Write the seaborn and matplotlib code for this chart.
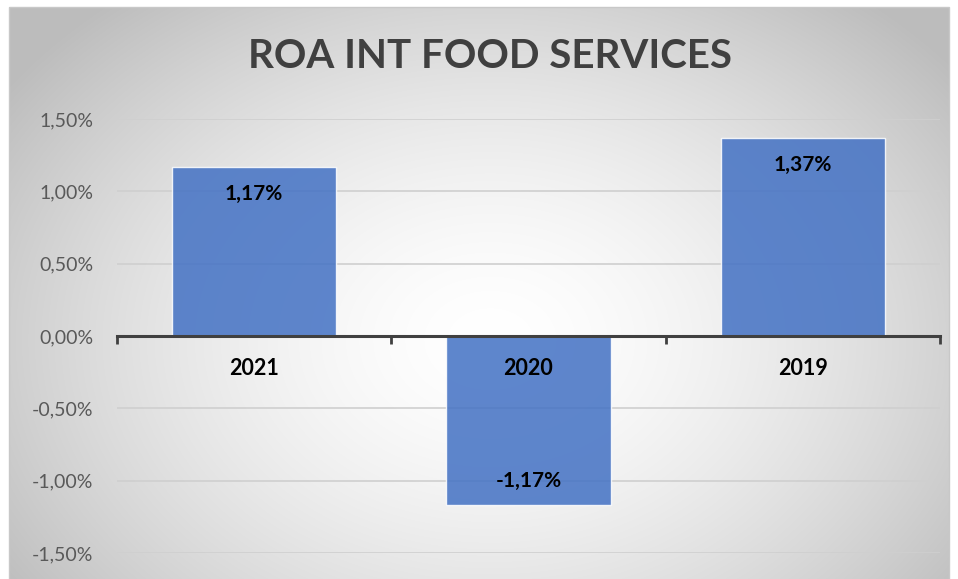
import numpy as np
import pandas as pd
import seaborn as sns
import matplotlib.pyplot as plt
from matplotlib.patches import Rectangle
from matplotlib.ticker import FuncFormatter, FixedLocator

# --- DATA ---
years = ['2021', '2020', '2019']
roa = [1.17, -1.17, 1.37]
y_ticks = [-1.5, -1.0, -0.5, 0.0, 0.5, 1.0, 1.5]
title = "ROA INT FOOD SERVICES"

df = pd.DataFrame({'year': years, 'roa': roa})

sns.set_style("white")
plt.rcParams['font.family'] = ['Lato', 'DejaVu Sans']

W, H = 958, 579
fig = plt.figure(figsize=(W / 100, H / 100), dpi=100)

# --- radial gradient background inside chart frame ---
bg = fig.add_axes([0, 0, 1, 1], zorder=0)
yy, xx = np.mgrid[0:H, 0:W]
r = np.sqrt(((xx - 490) / 560) ** 2 + ((yy - 340) / 420) ** 2)
shade = np.clip(1 - 0.24 * r ** 1.6, 0.74, 1)
img = np.dstack([shade] * 3)
img[:, :9] = 1
img[:, 949:] = 1
img[:7, :] = 1
bg.imshow(img, extent=[0, W, H, 0], aspect='auto', interpolation='bilinear')
bg.add_patch(Rectangle((9, 7), 940, 580, fill=False, edgecolor='#c8c8c8', lw=1))
bg.set_xlim(0, W); bg.set_ylim(H, 0)
bg.axis('off')

# --- main plot ---
ax = fig.add_axes([117 / W, 1 - 553 / H, (940 - 117) / W, (553 - 119) / H], zorder=1)
ax.patch.set_alpha(0)
# gridlines drawn under the (slightly transparent) bars
for t in y_ticks:
    if t != 0:
        ax.axhline(t, color='#cfcfcf', lw=1.2, zorder=1)
sns.barplot(data=df, x='year', y='roa', order=years, color='#4472C4', alpha=0.86,
            width=0.6, saturation=1, ax=ax, zorder=2)
ax.set_ylim(-1.5, 1.5)
ax.set_xlim(-0.5, 2.5)
ax.yaxis.set_major_locator(FixedLocator(y_ticks))
ax.yaxis.set_major_formatter(FuncFormatter(lambda v, p: f"{v:.2f}".replace('.', ',') + '%'))
ax.grid(False)
ax.set_axisbelow(False)
for s in ['top', 'right', 'left']:
    ax.spines[s].set_visible(False)
ax.spines['bottom'].set_position(('data', 0))
ax.spines['bottom'].set_color('#404040')
ax.spines['bottom'].set_linewidth(2.2)
ax.spines['bottom'].set_zorder(5)
ax.tick_params(axis='y', length=0, labelsize=14, labelcolor='#595959', pad=17)
ax.tick_params(axis='x', which='major', bottom=True, length=0, pad=16)
ax.set_xticks([-0.5, 0.5, 1.5, 2.5], minor=True)
ax.tick_params(axis='x', which='minor', bottom=True, length=6, width=2,
               color='#404040', direction='out')
for lab in ax.get_xticklabels():
    lab.set_fontweight('bold'); lab.set_fontsize(15.5); lab.set_color('black')
ax.set_xlabel(''); ax.set_ylabel('')

# data labels inside end
for i, v in enumerate(roa):
    off = -0.19 if v > 0 else 0.17
    ax.text(i, v + off, f"{v:.2f}".replace('.', ',') + '%', ha='center', va='center',
            fontsize=15, fontweight='bold', color='black', zorder=6)

fig.text(490 / W, 1 - 57 / H, title, ha='center', va='center', fontsize=29,
         fontweight='bold', color='#404040')

fig.savefig('out.png', dpi=100)
